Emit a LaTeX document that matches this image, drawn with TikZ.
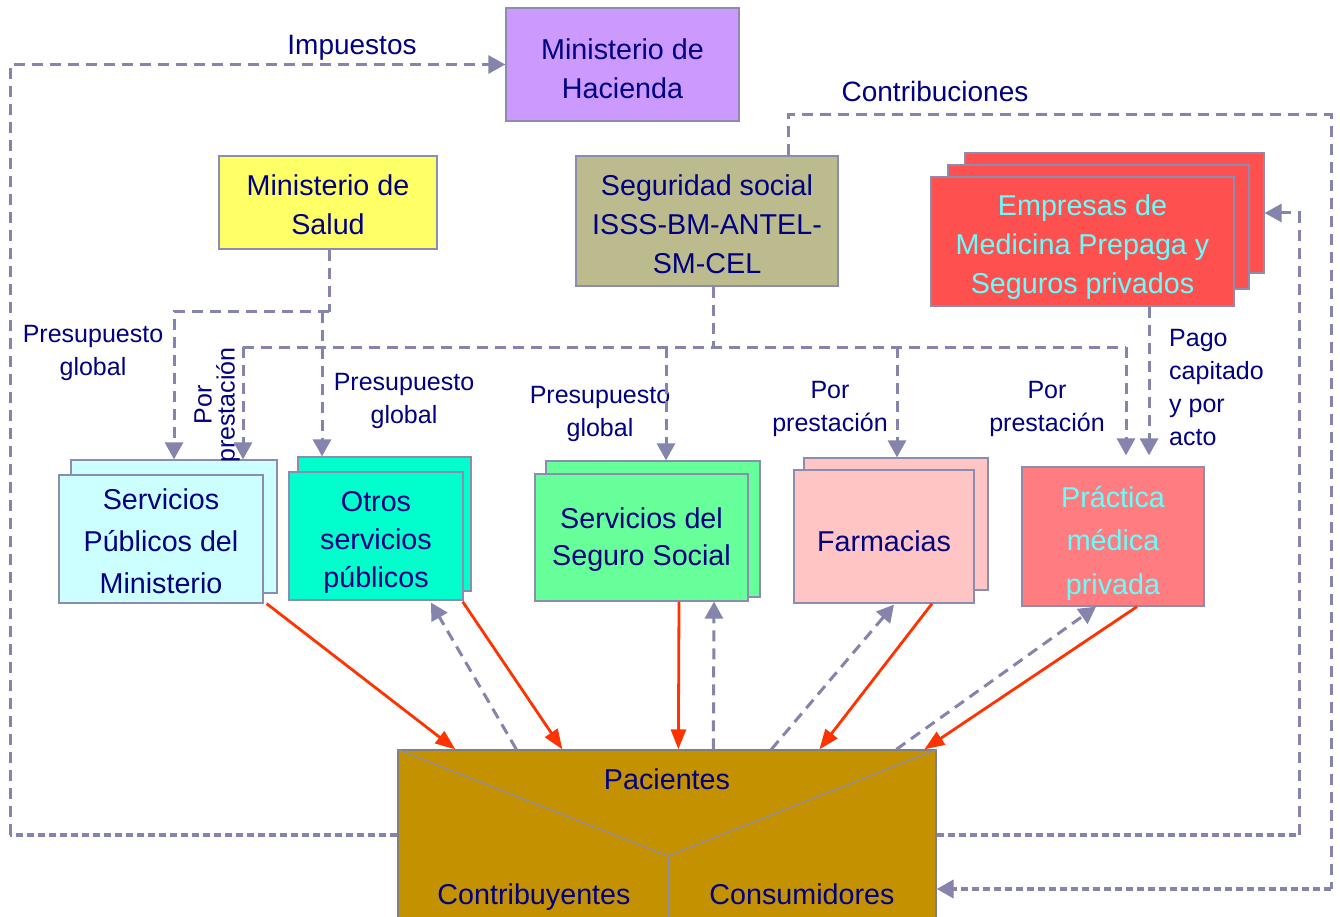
\documentclass[tikz,border=0pt]{standalone}
\usepackage{fontspec}
\setmainfont{Liberation Sans}
\usetikzlibrary{arrows.meta,calc}
\definecolor{navy}{HTML}{000080}
\definecolor{flowc}{HTML}{8484AC}
\definecolor{bordc}{HTML}{8C8CB0}
\definecolor{redc}{HTML}{FF3300}
\definecolor{hacc}{HTML}{CC99FF}
\definecolor{salc}{HTML}{FFFF66}
\definecolor{segc}{HTML}{BBBB8E}
\definecolor{empc}{HTML}{FF5050}
\definecolor{spmc}{HTML}{CCFFFF}
\definecolor{otrc}{HTML}{00FFCC}
\definecolor{sssc}{HTML}{66FF99}
\definecolor{farc}{HTML}{FFC4C4}
\definecolor{prac}{HTML}{FF7C80}
\definecolor{pacc}{HTML}{C49200}
\definecolor{cyant}{HTML}{66FFFF}
\begin{document}
\begin{tikzpicture}[x=1pt,y=-1pt,
  box/.style={draw=bordc,line width=1.3pt,inner sep=0pt},
  btext/.style={text=navy,align=center,inner sep=0pt,text depth=0pt,font=\fontsize{28.7}{39}\selectfont},
  flow/.style={draw=flowc,line width=3pt,dash pattern=on 11pt off 7pt},
  flowdot/.style={draw=flowc,line width=3.8pt,dash pattern=on 7pt off 4pt},
  tip/.style={-{Triangle[length=17pt,width=18pt]}},
  pay/.style={draw=redc,line width=2.8pt,-{Triangle[length=20pt,width=15pt]}},
  lbl/.style={text=navy,align=center,inner sep=0pt,font=\fontsize{25}{33}\selectfont},
  toplbl/.style={text=navy,inner sep=0pt,font=\fontsize{28}{34}\selectfont},
  ptext/.style={text=navy,inner sep=0pt,font=\fontsize{28.7}{34}\selectfont},
  inner/.style={draw=bordc,line width=1.2pt}]
\useasboundingbox (0,0) rectangle (1340,917);
\fill[white] (0,0) rectangle (1340,917);

% boxes
\node[box,fill=hacc,minimum width=233pt,minimum height=113pt] (hac) at (622.5,64.5) {};
\node[btext] (hacT) at ($(hac)+(0,4)$) {Ministerio de\\Hacienda};
\node[box,fill=salc,minimum width=218pt,minimum height=93pt] (sal) at (328,202.5) {};
\node[btext] (salT) at ($(sal)+(0,2.5)$) {Ministerio de\\Salud};
\node[box,fill=segc,minimum width=262pt,minimum height=130pt] (ss) at (707,221) {};
\node[btext] (ssT) at ($(ss)+(0,3)$) {Seguridad social\\ISSS-BM-ANTEL-\\SM-CEL};
\node[box,fill=empc,minimum width=299pt,minimum height=120pt] (empb2) at (1114.5,213) {};
\node[box,fill=empc,minimum width=301pt,minimum height=124pt] (empb1) at (1098.5,227) {};
\node[box,fill=empc,minimum width=303pt,minimum height=129pt] (emp) at (1082.5,241.5) {};
\node[btext,text=cyant] (empT) at ($(emp)+(0,3)$) {Empresas de\\Medicina Prepaga y\\Seguros privados};
\node[box,fill=spmc,minimum width=206pt,minimum height=133pt] (spmb) at (174,526.5) {};
\node[box,fill=spmc,minimum width=204pt,minimum height=128pt] (spm) at (161,539) {};
\node[btext,font=\fontsize{28.7}{42}\selectfont] (spmT) at ($(spm)+(0,2)$) {Servicios\\Públicos del\\Ministerio};
\node[box,fill=otrc,minimum width=173pt,minimum height=134pt] (osb) at (384.5,524) {};
\node[box,fill=otrc,minimum width=174pt,minimum height=128pt] (ots) at (376,536) {};
\node[btext,font=\fontsize{28.7}{38}\selectfont] (otsT) at ($(ots)+(0,3)$) {Otros\\servicios\\públicos};
\node[box,fill=sssc,minimum width=214pt,minimum height=136pt] (sssb) at (653,529) {};
\node[box,fill=sssc,minimum width=213pt,minimum height=127pt] (sss) at (641.5,537.5) {};
\node[btext,font=\fontsize{28.7}{37}\selectfont] (sssT) at ($(sss)+(0,-1)$) {Servicios del\\Seguro Social};
\node[box,fill=farc,minimum width=184pt,minimum height=132pt] (farb) at (896,524) {};
\node[box,fill=farc,minimum width=180pt,minimum height=133pt] (far) at (884,536.5) {};
\node[btext] (farT) at ($(far)+(0,5)$) {Farmacias};
\node[box,fill=prac,minimum width=182pt,minimum height=139pt] (pra) at (1113,536.5) {};
\node[btext,text=cyant,font=\fontsize{28.7}{43.5}\selectfont] (praT) at ($(pra)+(0,3.5)$) {Práctica\\médica\\privada};
\node[box,fill=pacc,draw=gray,minimum width=538pt,minimum height=170pt] (pac) at (667,835) {};
\coordinate (pm) at (668,856);
\draw[inner] (pac.north west) -- (pm) -- (pac.north east);
\draw[inner] (pm) -- (pm |- pac.south);
\node[ptext] (tPac) at (667,779) {Pacientes};
\node[ptext,anchor=base] (tCon) at (534,904) {Contribuyentes};
\node[ptext,anchor=base] (tCons) at (802,904) {Consumidores};

% labels
\node[toplbl] (lImp) at (352,48) {Impuestos};
\node[toplbl] (lCon) at (935,91) {Contribuciones};
\node[lbl] (lPG1) at (93,353) {Presupuesto\\global};
\node[lbl,rotate=90,font=\fontsize{25}{23}\selectfont] (lPP1) at (217,405) {Por\\prestación};
\node[lbl] (lPG2) at (404,401) {Presupuesto\\global};
\node[lbl] (lPG3) at (600,414) {Presupuesto\\global};
\node[lbl] (lPP2) at (830,409) {Por\\prestación};
\node[lbl] (lPP3) at (1047,409) {Por\\prestación};
\node[lbl,align=left,anchor=west] (lPago) at (1169,388) {Pago\\capitado\\y por\\acto};

% Salud tree
\coordinate (sj) at ($(sal.south)+(1,62)$);
\coordinate (sk) at ($(sj)+(-7,0)$);
\draw[flow] ([xshift=1pt]sal.south) -- (sj);
\draw[flow,tip] (sj) -| (spmb.north);
\draw[flow,tip] (sk) -- (sk |- osb.north);

% Seguridad social tree
\coordinate (sj2) at ($(ss.south)+(6,61)$);
\coordinate (bA) at (243,347);
\coordinate (bB) at (666,347);
\coordinate (bC) at (897,347);
\coordinate (bD) at (1126,347);
\draw[flow] ([xshift=6pt]ss.south) -- (sj2);
\draw[flow] (bA) -- (bD);
\draw[flow,tip] (bA) -- (bA |- spmb.north);
\draw[flow,tip] (bB) -- (bB |- sssb.north);
\draw[flow,tip] (bC) -- (bC |- farb.north);
\draw[flow,tip,shorten >=11pt] (bD) -- (bD |- pra.north);

% Empresas to practica
\coordinate (ep) at ($(emp.south)+(66.5,0)$);
\draw[flow,tip,shorten >=11pt] (ep) -- (ep |- pra.north);

% Impuestos loop
\coordinate (lc) at (10,400);
\draw[flowdot] (pac.west) -- (pac.west -| lc);
\draw[flow,tip] (pac.west -| lc) |- (hac.west);

% to Empresas
\coordinate (rc1) at (1299,400);
\draw[flowdot] (pac.east) -- (pac.east -| rc1);
\draw[flow,tip] (pac.east -| rc1) |- (empb2.east);

% Contribuciones
\coordinate (cs) at ($(ss.north)+(81,0)$);
\coordinate (cTop) at (1331,115);
\coordinate (cBot) at (1331,889);
\draw[flow] (cs) |- (cTop) -- (cBot);
\draw[flowdot,tip] (cBot) -- (cBot -| pac.east);

% payments (red)
\draw[pay] ($(spm.south east)+(3,0)$) -- ($(pac.north west)+(58,0)$);
\draw[pay] ($(ots.south east)+(-1,1)$) -- ($(pac.north west)+(165,0)$);
\draw[pay] ($(sss.south)+(37.5,0)$) -- ($(pac.north west)+(281,0)$);
\draw[pay] ($(far.south)+(48,0)$) -- ($(pac.north west)+(422,0)$);
\draw[pay] ($(pra.south)+(24,0)$) -- ($(pac.north west)+(527,0)$);

% returns (dashed)
\draw[flow,tip] ($(pac.north west)+(119,0)$) -- ($(ots.south)+(55,2)$);
\draw[flow,tip] ($(pac.north west)+(316,0)$) -- ($(sss.south)+(72.5,0)$);
\draw[flow,tip] ($(pac.north west)+(374,0)$) -- ($(far.south)+(10,1)$);
\draw[flow,tip] ($(pac.north west)+(499,0)$) -- ($(pra.south)+(-17,0)$);
\end{tikzpicture}
\end{document}
